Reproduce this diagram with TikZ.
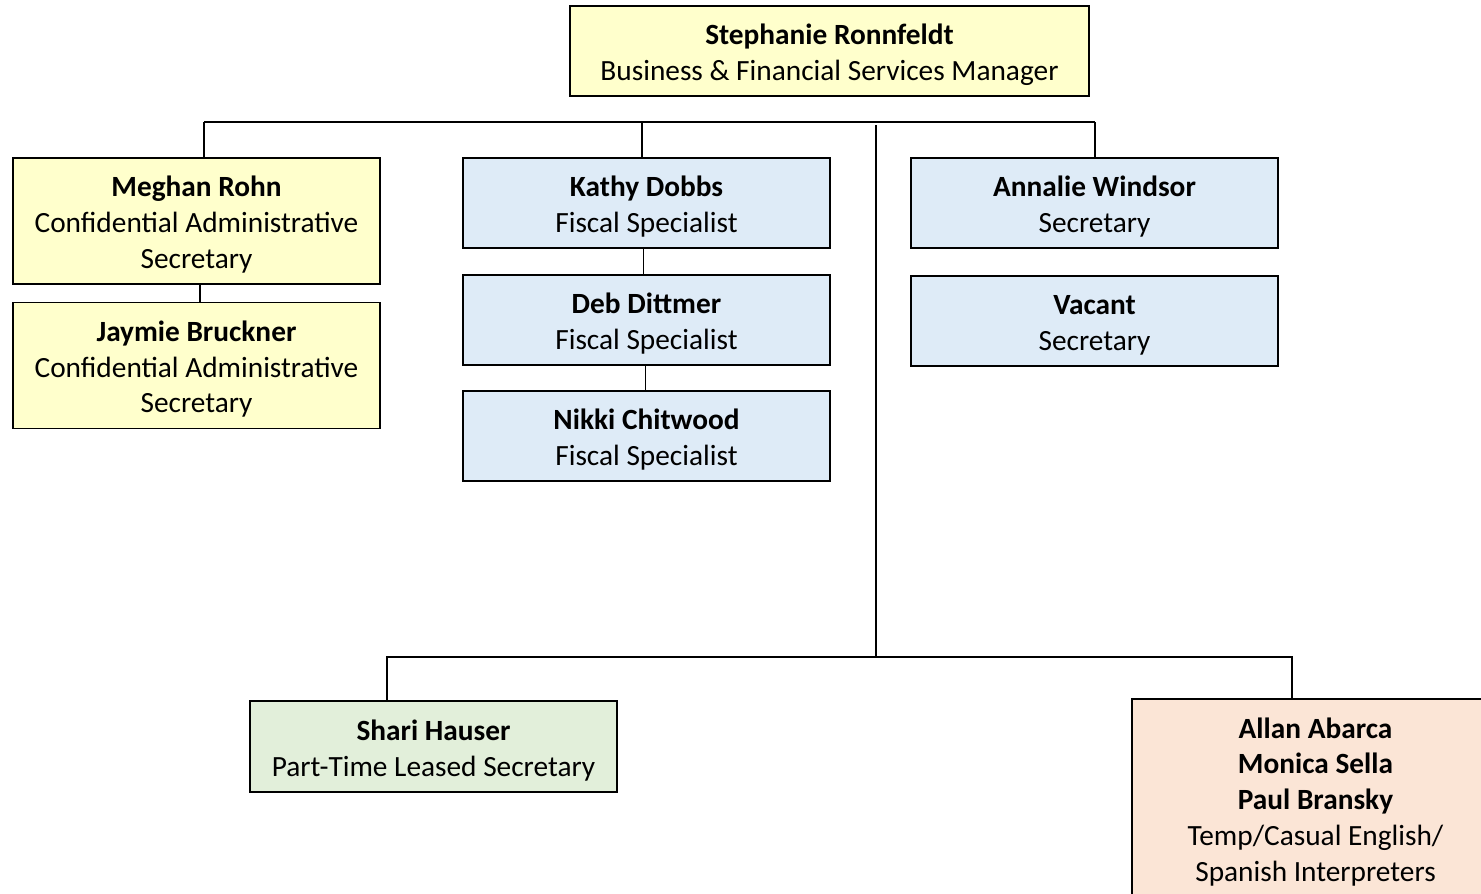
\documentclass[tikz,border=0pt]{standalone}
\usepackage{fontspec}
\setmainfont{Carlito}
\definecolor{cyellow}{RGB}{255,255,204}
\definecolor{cblue}{RGB}{222,235,247}
\definecolor{cgreen}{RGB}{226,239,218}
\definecolor{cpeach}{RGB}{251,229,214}
% bold first line with a tall strut so the text block sits a little lower
\newcommand{\leadname}[1]{\rule{0pt}{21pt}\textbf{#1}}
\begin{document}
\begin{tikzpicture}[x=0.75pt,y=-0.75pt,
  box/.style={draw=black, line width=1.1pt, minimum width=275.25pt, inner sep=0pt,
    align=center, font=\fontsize{22}{26.8}\selectfont},
  link/.style={draw=black, line width=0.8pt}]
\useasboundingbox (0,0) rectangle (1481,893);

% manager
\node[box, fill=cyellow, minimum width=389.25pt, minimum height=67.5pt] (head) at (829.5,51)
  {\leadname{Stephanie Ronnfeldt}\\Business \& Financial Services Manager};

% left column
\node[box, fill=cyellow, minimum height=94.5pt] (meghan) at (196.5,221)
  {\leadname{Meghan Rohn}\\Confidential Administrative\\Secretary};
\node[box, fill=cyellow, minimum height=94.5pt] (jaymie) at (196.5,365.5)
  {\leadname{Jaymie Bruckner}\\Confidential Administrative\\Secretary};

% fiscal column
\node[box, fill=cblue, minimum height=67.5pt] (kathy) at (646.5,203)
  {\leadname{Kathy Dobbs}\\Fiscal Specialist};
\node[box, fill=cblue, minimum height=67.5pt] (deb) at (646.5,320)
  {\leadname{Deb Dittmer}\\Fiscal Specialist};
\node[box, fill=cblue, minimum height=67.5pt] (nikki) at (646.5,436)
  {\leadname{Nikki Chitwood}\\Fiscal Specialist};

% secretaries
\node[box, fill=cblue, minimum height=67.5pt] (annalie) at (1094.5,203)
  {\leadname{Annalie Windsor}\\Secretary};
\node[box, fill=cblue, minimum height=67.5pt] (vacant) at (1094.5,321)
  {\leadname{Vacant}\\Secretary};

% lower level
\node[box, fill=cgreen, minimum height=68.25pt] (shari) at (433.5,746.5)
  {\leadname{Shari Hauser}\\Part-Time Leased Secretary};
\node[box, fill=cpeach, minimum height=148.5pt] (allan) at (1315.5,798)
  {\leadname{Allan Abarca}\\\textbf{Monica Sella}\\\textbf{Paul Bransky}\\Temp/Casual English/\\Spanish Interpreters};

% upper bus
\coordinate (busL) at (204,122);
\coordinate (busK) at (642,122);
\coordinate (busR) at (1095,122);
\draw[link] (busL) -- (busR);
\draw[link] (busL) -- (busL |- meghan.north);
\draw[link] (busK) -- (busK |- kathy.north);
\draw[link] (busR) -- (busR |- annalie.north);

% chains inside columns
\draw[link] ([xshift=2.6pt]meghan.south) -- ([xshift=2.6pt]jaymie.north);
\draw[link] ([xshift=-2.6pt]kathy.south) -- ([xshift=-2.6pt]deb.north);
\draw[link] ([xshift=-1.1pt]deb.south) -- ([xshift=-1.1pt]nikki.north);

% trunk and lower bus
\coordinate (trunkT) at (876,125);
\coordinate (trunkB) at (876,657);
\coordinate (lowL) at (387,657);
\coordinate (lowR) at (1292,657);
\draw[link] (trunkT) -- (trunkB);
\draw[link] (lowL |- shari.north) -- (lowL) -- (lowR) -- (lowR |- allan.north);
\end{tikzpicture}
\end{document}
